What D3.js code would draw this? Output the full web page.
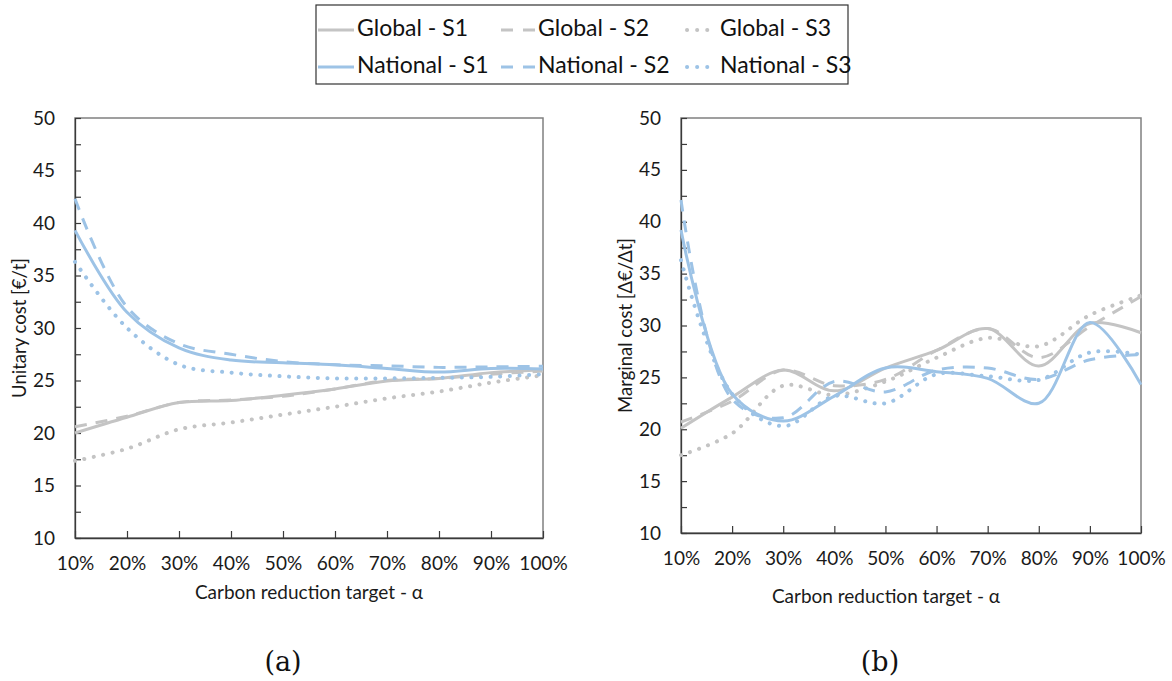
<!DOCTYPE html>
<html>
<head>
<meta charset="utf-8">
<script src="https://cdn.jsdelivr.net/npm/d3@7/dist/d3.min.js"></script>
<style>
  body { margin: 0; background: #fff; }
  svg { display: block; }
  .tick text { font-family: Lato, "Open Sans", sans-serif; font-size: 19px; fill: #1a1a1a; }
</style>
</head>
<body>
<div id="chart"></div>
<script>
// x categories (carbon reduction target)
const alphaValues = [10, 20, 30, 40, 50, 60, 70, 80, 90, 100];
const yTicks = [10, 15, 20, 25, 30, 35, 40, 45, 50];

// (a) unitary cost [€/t]
const unitGlobalS1 = [20.0, 21.5, 22.9, 23.1, 23.6, 24.2, 24.95, 25.2, 25.75, 26.0];
const unitGlobalS2 = [20.6, 21.6, 22.9, 23.15, 23.5, 24.2, 25.0, 25.2, 25.6, 25.9];
const unitGlobalS3 = [17.35, 18.5, 20.35, 21.0, 21.75, 22.5, 23.3, 23.95, 24.8, 25.5];
const unitNationalS1 = [39.3, 31.5, 28.1, 26.95, 26.7, 26.5, 26.15, 25.8, 26.15, 26.1];
const unitNationalS2 = [42.3, 32.0, 28.5, 27.5, 26.8, 26.5, 26.4, 26.25, 26.3, 26.35];
const unitNationalS3 = [36.3, 30.0, 26.5, 25.75, 25.4, 25.2, 25.2, 25.25, 25.35, 25.6];

// (b) marginal cost [Δ€/Δt]
const margGlobalS1 = [20.1, 23.1, 25.7, 23.7, 25.9, 27.6, 29.7, 26.1, 30.2, 29.3];
const margGlobalS2 = [20.7, 22.7, 25.7, 24.2, 24.8, 27.6, 29.7, 26.9, 29.9, 32.8];
const margGlobalS3 = [17.5, 19.6, 24.2, 23.3, 24.6, 26.9, 28.8, 28.0, 31.0, 32.9];
const margNationalS1 = [39.2, 23.4, 20.8, 23.2, 25.9, 25.55, 24.9, 22.5, 30.3, 24.3];
const margNationalS2 = [42.1, 22.9, 21.1, 24.6, 23.6, 25.7, 25.9, 24.8, 26.7, 27.2];
const margNationalS3 = [36.3, 23.4, 20.3, 23.2, 22.5, 25.3, 25.1, 24.75, 27.4, 27.2];

const seriesNames = ["Global - S1", "Global - S2", "Global - S3", "National - S1", "National - S2", "National - S3"];

const GRAY = "#c4c4c4", BLUE = "#9dc3e6";
const styles = [
  {color: GRAY, dash: null}, {color: GRAY, dash: "12 9"}, {color: GRAY, dash: "0.1 9.5"},
  {color: BLUE, dash: null}, {color: BLUE, dash: "12 9"}, {color: BLUE, dash: "0.1 9.5"}
];

const svg = d3.select("#chart").append("svg")
  .attr("width", 1172).attr("height", 681);

function drawPanel(cfg) {
  const x = d3.scaleLinear().domain([10, 100]).range([cfg.left, cfg.right]);
  const y = d3.scaleLinear().domain([10, 50]).range([cfg.bottom, cfg.top]);
  const g = svg.append("g");

  g.append("rect")
    .attr("x", cfg.left).attr("y", cfg.top)
    .attr("width", cfg.right - cfg.left).attr("height", cfg.bottom - cfg.top)
    .attr("fill", "none").attr("stroke", "#808080").attr("stroke-width", 1.5);

  const yAxis = g.append("g")
    .attr("transform", `translate(${cfg.left},0)`)
    .call(d3.axisLeft(y)
      .tickValues(d3.range(10, 50.01, 2.5))
      .tickSize(-6).tickSizeOuter(0).tickPadding(20)
      .tickFormat(d => yTicks.includes(d) ? d : ""));

  const xAxis = g.append("g")
    .attr("transform", `translate(0,${cfg.bottom})`)
    .call(d3.axisBottom(x)
      .tickValues(alphaValues)
      .tickSize(-7).tickSizeOuter(0).tickPadding(19)
      .tickFormat(d => d + "%"));

  [yAxis, xAxis].forEach(a => {
    a.select(".domain").attr("stroke", "#3a3a3a").attr("stroke-width", 1.3);
    a.selectAll(".tick line").attr("stroke", "#3a3a3a").attr("stroke-width", 1.2);
  });

  const line = d3.line()
    .x((d, i) => x(alphaValues[i]))
    .y(d => y(d))
    .curve(d3.curveCatmullRom.alpha(0.5));

  cfg.series.forEach((vals, i) => {
    const st = styles[i];
    g.append("path")
      .datum(vals)
      .attr("d", line)
      .attr("fill", "none")
      .attr("stroke", st.color)
      .attr("stroke-width", st.dash === "0.1 9.5" ? 4 : 3)
      .attr("stroke-linecap", st.dash === "0.1 9.5" ? "round" : "butt")
      .attr("stroke-dasharray", st.dash);
  });

  g.append("text")
    .attr("transform", `translate(${cfg.yTitleX},${(cfg.top + cfg.bottom) / 2}) rotate(-90)`)
    .attr("text-anchor", "middle")
    .attr("dominant-baseline", "middle")
    .style("font-family", "Lato, sans-serif")
    .style("font-size", "18.5px")
    .attr("fill", "#1a1a1a")
    .text(cfg.yTitle);

  g.append("text")
    .attr("x", cfg.xTitleX).attr("y", cfg.xTitleY)
    .attr("text-anchor", "middle")
    .style("font-family", "Lato, sans-serif")
    .style("font-size", "19px")
    .attr("fill", "#1a1a1a")
    .text("Carbon reduction target - α");

  g.append("text")
    .attr("x", cfg.capX).attr("y", 671)
    .attr("text-anchor", "middle")
    .style("font-family", "'DejaVu Serif', 'Liberation Serif', serif")
    .style("font-size", "27px")
    .attr("fill", "#111")
    .text(cfg.caption);
}

drawPanel({
  left: 75, right: 543, top: 118, bottom: 538,
  series: [unitGlobalS1, unitGlobalS2, unitGlobalS3, unitNationalS1, unitNationalS2, unitNationalS3],
  yTitle: "Unitary cost [€/t]", yTitleX: 21,
  xTitleX: 309, xTitleY: 599, capX: 283, caption: "(a)"
});

drawPanel({
  left: 681, right: 1141, top: 118, bottom: 533,
  series: [margGlobalS1, margGlobalS2, margGlobalS3, margNationalS1, margNationalS2, margNationalS3],
  yTitle: "Marginal cost [Δ€/Δt]", yTitleX: 627,
  xTitleX: 886, xTitleY: 603, capX: 880, caption: "(b)"
});

// legend
const legend = svg.append("g");
legend.append("rect")
  .attr("x", 316).attr("y", 5).attr("width", 532).attr("height", 79)
  .attr("fill", "#fff").attr("stroke", "#333").attr("stroke-width", 1.2);

const colX = [318, 499, 681];
const rowY = [30, 67];
seriesNames.forEach((name, i) => {
  const cx = colX[i % 3], cy = rowY[Math.floor(i / 3)];
  const st = styles[i];
  legend.append("line")
    .attr("x1", cx).attr("x2", cx + 36).attr("y1", cy).attr("y2", cy)
    .attr("stroke", st.color)
    .attr("stroke-width", st.dash === "0.1 9.5" ? 4 : 3)
    .attr("stroke-linecap", st.dash === "0.1 9.5" ? "round" : "butt")
    .attr("stroke-dasharray", st.dash === "0.1 9.5" ? "0.1 10" : (st.dash ? "12 10" : null))
    .attr("stroke-dashoffset", st.dash === "0.1 9.5" ? -6 : (st.dash ? -2 : 0));
  legend.append("text")
    .attr("x", cx + 39).attr("y", cy)
    .attr("dominant-baseline", "middle")
    .style("font-family", "Lato, sans-serif")
    .style("font-size", "23px")
    .attr("fill", "#111")
    .text(name);
});
</script>
</body>
</html>
